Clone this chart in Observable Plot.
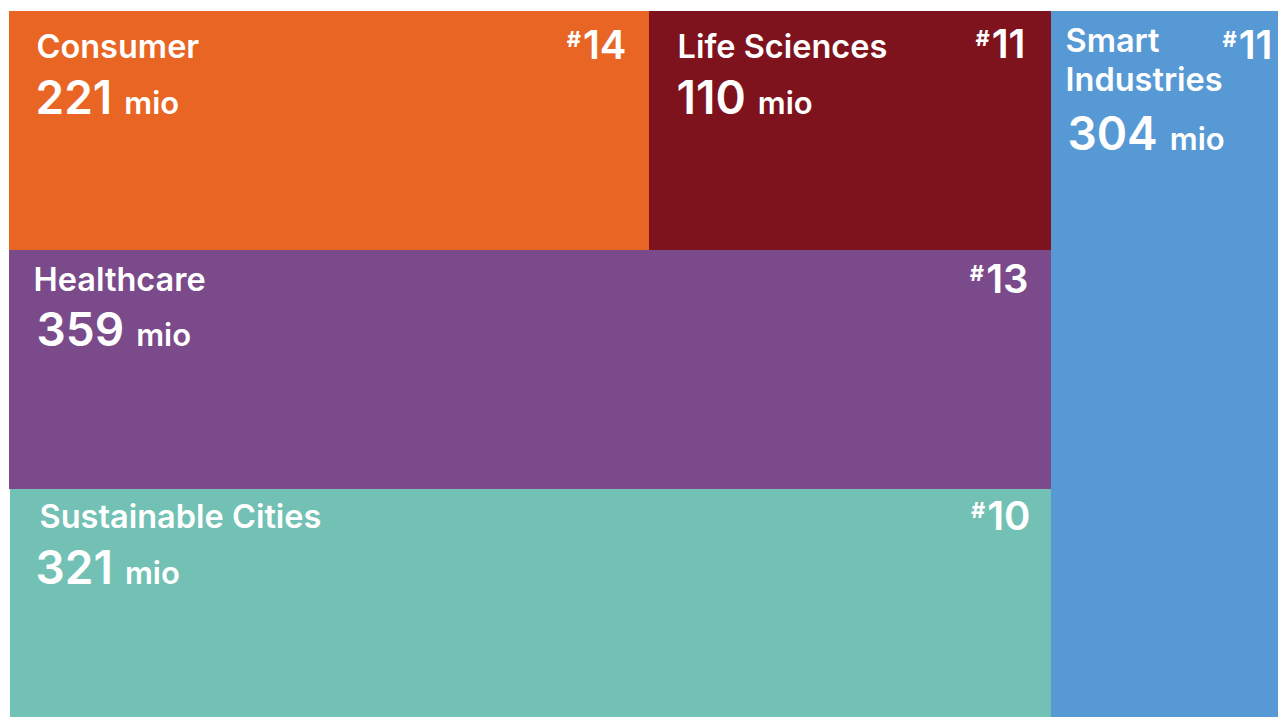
<!DOCTYPE html>
<html>
<head>
<meta charset="utf-8">
<script src="https://cdn.jsdelivr.net/npm/d3@7"></script>
<script src="https://cdn.jsdelivr.net/npm/@observablehq/plot@0.6"></script>
<style>
  html, body { margin: 0; padding: 0; background: #ffffff; }
  #chart svg { display: block; }
</style>
</head>
<body>
<div id="chart"></div>
<script>
// ---- data ----
const categories = ["Consumer", "Life Sciences", "Smart Industries", "Healthcare", "Sustainable Cities"];
const labels = ["Consumer", "Life Sciences", "Smart\nIndustries", "Healthcare", "Sustainable Cities"];
const values = [221, 110, 304, 359, 321];
const unit = "mio";
const ranks = ["14", "11", "11", "13", "10"];
const colors = ["#E96524", "#7E131D", "#5799D4", "#7A4A8A", "#73C1B4"];

// ---- layout (percent of the plot area: x1, x2, y1, y2; y measured from the top) ----
const grid = [
  [0, 50.4334, 0, 33.853],
  [50.4334, 82.1119, 0, 33.853],
  [82.1119, 100, 0, 100],
  [0, 82.1119, 33.853, 67.705],
  [0.0788, 82.1119, 67.705, 100]
];
// text offsets in pixels from the cell corner
const offsets = [
  {lx: 27, ly: 46, nx: 26, ny: 102, rx: -23, ry: 47},
  {lx: 28, ly: 46, nx: 27, ny: 102, rx: -26, ry: 46},
  {lx: 14, ly: 79, nx: 16, ny: 138, rx: -6,  ry: 47},
  {lx: 24, ly: 40, nx: 27, ny: 95,  rx: -23, ry: 42},
  {lx: 29, ly: 39, nx: 25, ny: 95,  rx: -21, ry: 41}
];

const cells = categories.map((c, i) => ({
  category: c, label: labels[i], value: values[i], rank: "#" + ranks[i], color: colors[i],
  x1: grid[i][0], x2: grid[i][1], y1: grid[i][2], y2: grid[i][3]
}));

const textMarks = cells.flatMap((d, i) => {
  const o = offsets[i];
  return [
    Plot.text([d], {x: "x1", y: "y1", text: "label", textAnchor: "start", lineAnchor: "bottom",
      dx: o.lx, dy: o.ly, fontSize: 32.5, fontWeight: 600, fill: "white", lineHeight: 1.17}),
    Plot.text([d], {x: "x1", y: "y1", text: (v) => String(v.value), textAnchor: "start", lineAnchor: "bottom",
      dx: o.nx, dy: o.ny, fontSize: 46, fontWeight: 600, fill: "white", ariaDescription: "value-label"}),
    Plot.text([d], {x: "x2", y: "y1", text: "rank", textAnchor: "end", lineAnchor: "bottom",
      dx: o.rx, dy: o.ry, fontSize: 40, fontWeight: 600, fill: "white", ariaDescription: "rank-label"})
  ];
});

const chart = Plot.plot({
  width: 1278,
  height: 717,
  marginLeft: 9,
  marginTop: 11,
  marginRight: 0,
  marginBottom: 0,
  x: {domain: [0, 100], axis: null},
  y: {domain: [0, 100], axis: null, reverse: true},
  color: {type: "identity"},
  style: {fontFamily: "Inter, 'Liberation Sans', sans-serif", background: "white"},
  marks: [
    Plot.rect(cells, {x1: "x1", x2: "x2", y1: "y1", y2: "y2", fill: "color", shapeRendering: "crispEdges"}),
    ...textMarks
  ]
});

// value + unit
d3.select(chart).selectAll('g[aria-description="value-label"] text').each(function () {
  const v = this.textContent;
  this.textContent = "";
  const t = d3.select(this);
  t.append("tspan").text(v);
  t.append("tspan").attr("dx", 12).attr("font-size", 31).text(unit);
});
// rank with small raised "#"
d3.select(chart).selectAll('g[aria-description="rank-label"] text').each(function () {
  const v = this.textContent;
  this.textContent = "";
  const t = d3.select(this);
  t.append("tspan").attr("font-size", 22).attr("font-weight", 700).attr("dy", -12).text(v.slice(0, 1));
  t.append("tspan").attr("dy", 12).attr("dx", 2).text(v.slice(1));
});

document.getElementById("chart").appendChild(chart);
</script>
</body>
</html>
